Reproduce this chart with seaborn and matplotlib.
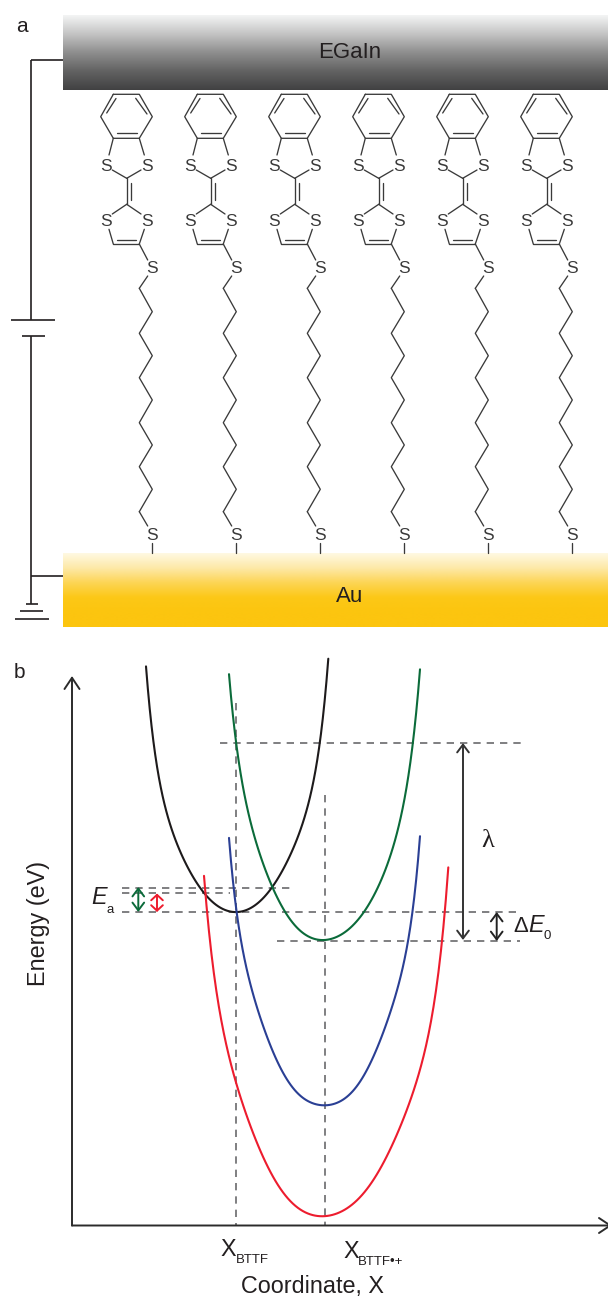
import warnings
import numpy as np
import pandas as pd
import matplotlib
matplotlib.use("Agg")
import matplotlib.pyplot as plt
from matplotlib.colors import LinearSegmentedColormap
import seaborn as sns

warnings.filterwarnings("ignore")

# ---- Panel b: energy parabolas (pixel scale) ----
black_x = [146,147,148.3,150,152.7,155.5,159.3,163.5,168.3,174,180,186.5,193.3,199,205,211.5,218.3,228,238.3,248,256.7,265,272.7,281.5,290,297,303.3,308.5,313.3,317,320,322.8,325,328.3]
black_y = [663,680,695,715,735,757,778,799,818,836,852,866,878,886,893,900.5,906,911,913,910,903,896,887,872,855,839,822,803,782,762,742,718,695,660]
green_x = [229,231,233,235.7,239,243.3,248.5,255,263.5,273.3,281,290,299,308.3,316,325,334,343.3,353,363.3,374,385,392,398.3,403,406.7,410,412.7,415.5,418,420]
green_y = [672.7,697,718,740,763,786.7,813,840,865,888.3,905,920,929.5,935.5,939,940,938.5,934.5,925,911.7,894,873,851,826.7,806,786.7,765,743,720,695,668]
blue_x = [229,231.5,233.8,236.7,240.5,245,250.5,256.7,264.5,273.3,282,291.7,300,308.3,316.5,325,333,341.7,351.5,361.7,371,380,388,395,401,406.7,410.3,413.3,416,418,420]
blue_y = [838.3,865,890,913.3,938,960,984,1006.7,1031,1053,1070.5,1085,1095,1101.7,1105,1106,1104.5,1100.7,1091,1078,1061.5,1043,1021,996.7,972,946.7,927,906.7,885,860,834]
red_x = [204,205.8,208.3,212.8,218.3,226,235,244.5,255,264.5,275,285,295,303,311.7,318.5,325.7,333.5,341.7,351.5,361.7,373,385,397,408.3,419,428.3,435.5,441.7,445.5,448.3]
red_y = [872.3,900,926.7,966,1003,1042,1076.7,1110,1140,1161,1180,1194,1205,1210.5,1214,1216,1216.7,1215.5,1212.7,1205,1195,1179,1160,1134,1106.7,1073,1036.7,992,943,905,867]

# dashed guides: (y, x0, x1) and (x, y0, y1)
h_guides = [(742.5,220,525),(911.8,122,520),(940.8,277,520),(888.2,122,293),(893.4,122,230)]
v_guides = [(235.8,703,1225),(325,795,1225)]
# double arrows: (x, y0, y1, colour, head length)
arrows = [(138.3,887,912,"#0b6b3a",0.4),(157,893.5,912,"#ed1c2e",0.28),(463,743,940,"#333333",0.4),(496.7,912,941,"#222222",0.4)]

# ---- Panel a: one molecule, offsets relative to its anchor ----
columns = [0,84,168,252,336,420]
ring_x = [113.3,139.3,152.3,139.3,113.3,100.7,113.3]
ring_y = [94.3,94.3,116.7,138.3,138.3,116.7,94.3]
bonds = [
    (106.7,113,116,98.5),(147,114,135.7,98.3),(116.7,133.3,136.7,133.3),
    (113.3,138.3,109,155),(139.3,138.3,144.3,155),(112.3,170,126.7,178.3),(141,170,126.7,178.3),
    (126.7,178.3,126.7,204.3),(131,183,131,200),
    (126.7,204.3,112.3,214),(126.7,204.3,141,214),(109,229.3,113.3,244),(144.3,229.3,139.3,244),
    (113.3,244,139.3,244),(116.7,240,135.7,240),(139.3,244,147.7,260),(147.7,276,139.3,288.3),
    (147.7,526,139.3,511.7),(151.7,543,151.7,553),
]
chain_x = [139.3,152.3,139.3,152.3,139.3,152.3,139.3,152.3,139.3,152.3,139.3]
chain_y = [288.3,311.7,333.3,355.7,377.7,400,422.7,445,466.7,489.3,511.7]
sulfur = [(106,166.7),(146.7,166.7),(106,221.7),(146.7,221.7),(152.3,268.3),(151.7,536)]

# ---- Circuit ----
wires = [(31,60,63,60),(31,60,31,320),(11,320,55,320),(22,336,45,336),(31,336,31,604),
         (31,576,63,576),(26,604,38,604),(20,611,43,611),(15,619,49,619)]

egain_stops = ["#f4f5f5","#c4c4c4","#8e8e8e","#626262","#414142"]
au_stops = ["#fff9e3","#fde9a8","#fdd555","#fcc817","#fcc50f","#fcc50f"]

sns.set_theme(style="white")
plt.rcParams["font.family"] = ["Liberation Sans", "DejaVu Sans"]

fig = plt.figure(figsize=(6.08, 12.97), dpi=100)
ax = fig.add_axes([0, 0, 1, 1])
ax.set_axis_off()

def grad(stops, y0, y1):
    cmap = LinearSegmentedColormap.from_list("g", stops)
    ax.imshow(np.linspace(0, 1, 256)[:, None], cmap=cmap, extent=(63, 608, y1, y0),
              aspect="auto", zorder=1, interpolation="bilinear")

grad(egain_stops, 15, 90)
grad(au_stops, 553, 627)

INK = "#3a3a3a"
for dx in columns:
    sns.lineplot(x=np.array(ring_x)+dx, y=ring_y, sort=False, estimator=None, ax=ax, color=INK, lw=0.95, zorder=3)
    sns.lineplot(x=np.array(chain_x)+dx, y=chain_y, sort=False, estimator=None, ax=ax, color=INK, lw=0.95, zorder=3)
    for x0, y0, x1, y1 in bonds:
        ax.plot([x0+dx, x1+dx], [y0, y1], color=INK, lw=0.95, zorder=3, solid_capstyle="round")
    for sx, sy in sulfur:
        ax.text(sx+dx, sy, "S", ha="center", va="center", fontsize=12.5, color=INK, zorder=4)

for x0, y0, x1, y1 in wires:
    ax.plot([x0, x1], [y0, y1], color="#231f20", lw=1.2, zorder=2, solid_capstyle="butt")

DASH = dict(color="#6a6a6c", lw=1.2, ls=(0, (4.4, 3.6)), zorder=2)
for y, x0, x1 in h_guides:
    ax.plot([x0, x1], [y, y], **DASH)
for x, y0, y1 in v_guides:
    ax.plot([x, x], [y0, y1], **DASH)

# smooth curve through the values
for name, xs, ys, col in [("black", black_x, black_y, "#1d1a1b"), ("green", green_x, green_y, "#0b6b3a"),
                          ("blue", blue_x, blue_y, "#2a3f94"), ("red", red_x, red_y, "#ed1c2e")]:
    d = pd.DataFrame({"x": xs, "y": ys})
    sns.regplot(data=d, x="x", y="y", order=8, scatter=False, ci=None, truncate=True, ax=ax,
                color=col, line_kws=dict(lw=1.5, zorder=3))

# coordinate axes
for start, end in [((72, 1225.5), (72, 676)), ((72, 1225.5), (612, 1225.5))]:
    ax.annotate("", xy=end, xytext=start, zorder=4, annotation_clip=False,
                arrowprops=dict(arrowstyle="->,head_length=0.45,head_width=0.3", color="#2b2b2b", lw=1.4,
                                shrinkA=0, shrinkB=0, mutation_scale=18))
for x, y0, y1, col, hl in arrows:
    ax.annotate("", xy=(x, y0), xytext=(x, y1), zorder=5,
                arrowprops=dict(arrowstyle=f"<->,head_length={hl},head_width=0.3", color=col, lw=1.4,
                                shrinkA=0, shrinkB=0, mutation_scale=14))

T = dict(color="#231f20", ha="center", va="center")
ax.text(22, 26, "a", fontsize=15, **T)
ax.text(19, 672, "b", fontsize=15, **T)
ax.text(350, 52, "EGaIn", fontsize=16, **T)
ax.text(350, 596, "Au", fontsize=16, **T)
ax.text(39, 923, "Energy (eV)", fontsize=16.8, rotation=90, **T)
ax.text(312.5, 1286, "Coordinate, X", fontsize=16.8, **T)
ax.text(228, 1250, "X", fontsize=16.8, **T)
ax.text(236, 1260, "BTTF", fontsize=9.5, color="#231f20", ha="left", va="center")
ax.text(351, 1252, "X", fontsize=16.8, **T)
ax.text(358, 1262, "BTTF\u2022+", fontsize=9.5, color="#231f20", ha="left", va="center")
ax.text(99, 898, "E", fontsize=16.8, style="italic", **T)
ax.text(110, 910, "a", fontsize=9.5, **T)
ax.text(488, 841, "\u03bb", fontsize=19, family="Liberation Serif", **T)
ax.text(521, 926, "\u0394", fontsize=16, **T)
ax.text(536.5, 926, "E", fontsize=16.8, style="italic", **T)
ax.text(547, 936, "0", fontsize=9.5, **T)

ax.set_xlim(0, 608)
ax.set_ylim(1297, 0)
ax.set_xlabel("")
ax.set_ylabel("")
fig.savefig("out.png", dpi=100, facecolor="white")
